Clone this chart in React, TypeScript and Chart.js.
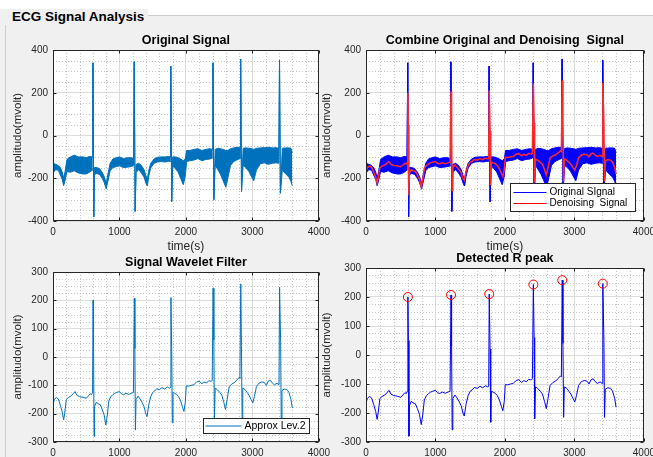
import React, { useEffect, useRef } from 'react';
import { Chart, registerables } from 'chart.js';
Chart.register(...registerables);

const FONT = "'Liberation Sans', Arial, Helvetica, sans-serif";

// ---------- data ----------
const xTicks = [0, 1000, 2000, 3000, 4000];
const yTicksTop = [-400, -200, 0, 200, 400];
const yTicksBottom = [-300, -200, -100, 0, 100, 200, 300];

// denoised / wavelet approximation (level 2)
const approxX = [0, 20, 50, 80, 110, 140, 160, 175, 200, 230, 270, 310, 330, 360, 400, 450, 500, 530, 560, 580, 595,
  603, 610, 618, 625, 650, 680, 710, 740, 770, 795, 815, 840, 870, 900, 930, 960, 1000, 1030, 1060, 1100, 1140, 1180, 1210,
  1224, 1232, 1240, 1250, 1280, 1310, 1340, 1370, 1395, 1415, 1440, 1470, 1500, 1530, 1560, 1600, 1640, 1680, 1720, 1750, 1766,
  1774, 1786, 1795, 1805, 1830, 1860, 1890, 1920, 1950, 1970, 1990, 2005, 2040, 2080, 2120, 2160, 2200, 2240, 2270, 2310, 2340, 2380, 2395,
  2409, 2420, 2428, 2440, 2470, 2510, 2540, 2570, 2595, 2620, 2650, 2690, 2730, 2770, 2800, 2812,
  2825, 2835, 2845, 2855, 2890, 2920, 2950, 2980, 3005, 3030, 3060, 3100, 3140, 3180, 3210, 3240, 3270, 3300, 3330, 3370, 3400,
  3409, 3425, 3433, 3445, 3480, 3520, 3550, 3580, 3600];
const approxY = [-165, -150, -143, -148, -170, -195, -222, -200, -150, -143, -138, -128, -122, -135, -140, -142, -146, -138, -130, -133, -125,
  200, 50, -280, -175, -160, -165, -168, -185, -205, -240, -210, -155, -140, -133, -128, -125, -122, -130, -133, -128, -132, -128, -125,
  207, 30, -258, -150, -138, -148, -160, -175, -200, -210, -170, -140, -125, -120, -112, -115, -108, -113, -106, -110, -108,
  210, 20, -232, -125, -128, -132, -140, -155, -178, -192, -160, -102, -103, -100, -98, -88, -85, -95, -88, -92, -84, -86, -82,
  243, 60, -220, -110, -115, -125, -135, -160, -185, -150, -105, -95, -90, -80, -72, -75,
  258, 40, -215, -110, -115, -125, -135, -150, -162, -140, -105, -92, -88, -90, -100, -85, -82, -92, -98, -93, -98,
  246, 50, -215, -118, -113, -115, -125, -150, -180];

// original noisy signal: upper and lower envelope of the noise band
const origX = [0, 40, 80, 110, 140, 160, 180, 210, 260, 320, 380, 450, 500, 550, 590, 601, 614,
  624, 660, 700, 740, 770, 800, 830, 860, 900, 950, 1000, 1060, 1120, 1180, 1212, 1222, 1236,
  1250, 1290, 1330, 1370, 1400, 1420, 1440, 1470, 1520, 1570, 1630, 1690, 1740, 1762, 1772, 1786,
  1800, 1840, 1880, 1920, 1960, 1990, 2010, 2060, 2120, 2180, 2240, 2300, 2360, 2398, 2407, 2420,
  2440, 2480, 2520, 2560, 2600, 2630, 2670, 2720, 2780, 2814, 2823, 2836,
  2860, 2900, 2950, 2990, 3020, 3060, 3120, 3180, 3240, 3300, 3360, 3398, 3408, 3421,
  3450, 3500, 3550, 3580, 3600];
const origHi = [-130, -135, -140, -150, -172, -200, -172, -112, -100, -92, -100, -100, -104, -98, -100, 340, -380,
  -150, -150, -155, -172, -192, -225, -175, -130, -110, -104, -100, -108, -104, -104, -108, 345, -355,
  -135, -130, -140, -160, -190, -202, -165, -130, -110, -102, -100, -100, -98, -100, 325, -310,
  -100, -100, -104, -110, -118, -110, -70, -70, -65, -62, -70, -65, -62, -65, 340, -300,
  -65, -60, -62, -65, -70, -70, -62, -58, -55, -55, 358, -262,
  -60, -58, -60, -62, -65, -60, -58, -57, -55, -58, -57, -60, 352, -270,
  -60, -58, -58, -60, -80];
const origLo = [-175, -160, -162, -185, -205, -235, -212, -168, -172, -165, -175, -180, -180, -172, -162, 340, -380,
  -182, -178, -182, -200, -220, -250, -208, -165, -150, -146, -142, -150, -148, -145, -142, 345, -355,
  -172, -160, -175, -195, -225, -236, -192, -152, -130, -124, -122, -124, -120, -122, 325, -310,
  -140, -155, -170, -200, -230, -192, -122, -118, -115, -108, -118, -112, -110, -105, 340, -300,
  -140, -160, -182, -212, -242, -200, -140, -122, -112, -108, 358, -262,
  -140, -150, -170, -195, -212, -162, -132, -128, -135, -130, -128, -130, 352, -270,
  -162, -180, -195, -215, -235];

// detected R peaks
const peakX = [603, 1224, 1774, 2409, 2825, 3409];
const peakY = [200, 207, 210, 243, 258, 246];

// ---------- helpers ----------
const pts = (xs: number[], ys: number[]) => xs.map((x, i) => ({ x, y: ys[i] }));

const matlabAxes = {
  id: 'matlabAxes',
  beforeDraw(chart: any) {
    const { ctx, chartArea: a } = chart;
    ctx.save();
    ctx.fillStyle = '#ffffff';
    ctx.fillRect(a.left, a.top, a.right - a.left, a.bottom - a.top);
    ctx.restore();
  },
  beforeDatasetsDraw(chart: any, _args: any, opts: any) {
    const { ctx, chartArea: a, scales } = chart;
    ctx.save();
    ctx.strokeStyle = '#c4c4c4';
    ctx.lineWidth = 1;
    ctx.setLineDash([1, 2]);
    const xs = scales.x, ys = scales.y;
    for (let v = xs.min; v <= xs.max; v += opts.minorX) {
      if (v % opts.majorX === 0) continue;
      const p = Math.round(xs.getPixelForValue(v)) + 0.5;
      ctx.beginPath(); ctx.moveTo(p, a.top); ctx.lineTo(p, a.bottom); ctx.stroke();
    }
    for (let v = ys.min; v <= ys.max; v += opts.minorY) {
      if (v % opts.majorY === 0) continue;
      const p = Math.round(ys.getPixelForValue(v)) + 0.5;
      ctx.beginPath(); ctx.moveTo(a.left, p); ctx.lineTo(a.right, p); ctx.stroke();
    }
    ctx.restore();
  },
  afterDraw(chart: any, _args: any, opts: any) {
    const { ctx, chartArea: a, scales } = chart;
    ctx.save();
    const L = Math.round(a.left) + 0.5, R = Math.round(a.right) - 0.5;
    const T = Math.round(a.top) + 0.5, B = Math.round(a.bottom) - 0.5;
    ctx.strokeStyle = '#262626';
    ctx.lineWidth = 1;
    ctx.setLineDash([]);
    ctx.strokeRect(L, T, R - L, B - T);
    // inward tick marks
    ctx.beginPath();
    for (const t of scales.x.ticks) {
      const p = Math.round(scales.x.getPixelForValue(t.value)) + 0.5;
      ctx.moveTo(p, B); ctx.lineTo(p, B - 3);
      ctx.moveTo(p, T); ctx.lineTo(p, T + 3);
    }
    for (const t of scales.y.ticks) {
      const p = Math.round(scales.y.getPixelForValue(t.value)) + 0.5;
      ctx.moveTo(L, p); ctx.lineTo(L + 3, p);
      ctx.moveTo(R, p); ctx.lineTo(R - 3, p);
    }
    ctx.stroke();
    // legend
    const lg = opts.legend;
    if (lg) {
      const bx = Math.round(a.right - lg.insetRight - lg.w) + 0.5;
      const by = Math.round(a.bottom - lg.insetBottom - lg.h) + 0.5;
      ctx.fillStyle = '#ffffff';
      ctx.fillRect(bx, by, lg.w, lg.h);
      ctx.strokeStyle = '#262626';
      ctx.strokeRect(bx, by, lg.w, lg.h);
      ctx.font = `${lg.fontSize}px ${FONT}`;
      ctx.textBaseline = 'middle';
      ctx.textAlign = 'left';
      lg.items.forEach((it: any, i: number) => {
        const y = by + lg.rowTop + i * lg.rowH;
        ctx.strokeStyle = it.color;
        ctx.lineWidth = 1;
        ctx.beginPath(); ctx.moveTo(bx + lg.lineStart, y); ctx.lineTo(bx + lg.lineEnd, y); ctx.stroke();
        ctx.fillStyle = '#000000';
        ctx.fillText(it.label, bx + lg.textX, y);
      });
    }
    ctx.restore();
  },
};

type PlotCfg = {
  x: number; y: number; w: number; h: number;
  yW: number; xH: number;
  title: string; titlePadTop: number; titlePadBottom: number;
  yTitlePad: number; xTitle: boolean;
  yTicks: number[]; yMajor: number; yMinor: number;
  datasets: any[];
  legend?: any;
};

function buildConfig(c: PlotCfg): any {
  return {
    type: 'line',
    data: { datasets: c.datasets },
    plugins: [matlabAxes],
    options: {
      responsive: false,
      animation: false,
      devicePixelRatio: 1,
      layout: { padding: { left: 0, right: 14, top: 0, bottom: 0 } },
      elements: { point: { radius: 0 }, line: { tension: 0 } },
      plugins: {
        legend: { display: false },
        tooltip: { enabled: false },
        title: {
          display: true, text: c.title, fullSize: false, color: '#000000',
          font: { family: FONT, size: 12.5, weight: 'bold' },
          padding: { top: c.titlePadTop, bottom: c.titlePadBottom },
        },
        matlabAxes: { minorX: 200, majorX: 1000, minorY: c.yMinor, majorY: c.yMajor, legend: c.legend },
      },
      scales: {
        x: {
          type: 'linear', min: xTicks[0], max: xTicks[xTicks.length - 1],
          afterBuildTicks: (s: any) => { s.ticks = xTicks.map((v) => ({ value: v })); },
          afterFit: (s: any) => { s.height = c.xH; },
          ticks: { font: { family: FONT, size: 10 }, color: '#262626', padding: 5, maxRotation: 0, autoSkip: false, callback: (v: any) => String(v) },
          grid: { color: '#dcdcdc', drawTicks: false },
          border: { display: false },
          title: c.xTitle
            ? { display: true, text: 'time(s)', color: '#262626', font: { family: FONT, size: 12 }, padding: { top: 0, bottom: 1 } }
            : { display: false },
        },
        y: {
          type: 'linear', min: c.yTicks[0], max: c.yTicks[c.yTicks.length - 1],
          afterBuildTicks: (s: any) => { s.ticks = c.yTicks.map((v) => ({ value: v })); },
          afterFit: (s: any) => { s.width = c.yW; },
          ticks: { font: { family: FONT, size: 10 }, color: '#262626', padding: 5, autoSkip: false, callback: (v: any) => String(v) },
          grid: { color: '#dcdcdc', drawTicks: false },
          border: { display: false },
          title: { display: true, text: 'amplitudo(mvolt)', color: '#262626', font: { family: FONT, size: 11.5 }, padding: { top: c.yTitlePad, bottom: 0 } },
        },
      },
    },
  };
}

function Plot({ cfg }: { cfg: PlotCfg }) {
  const ref = useRef<HTMLCanvasElement | null>(null);
  useEffect(() => {
    const chart = new Chart(ref.current as HTMLCanvasElement, buildConfig(cfg));
    return () => chart.destroy();
  }, []);
  return (
    <canvas ref={ref} width={cfg.w} height={cfg.h}
      style={{ position: 'absolute', left: cfg.x, top: cfg.y, width: cfg.w, height: cfg.h }} />
  );
}

const line = (data: any[], color: string, width: number, extra: any = {}) => ({
  data, borderColor: color, backgroundColor: color, borderWidth: width, pointRadius: 0, fill: false, ...extra,
});

const origLoPts = pts(origX, origLo);
const origHiPts = pts(origX, origHi);
const approxPts = pts(approxX, approxY);
const peakPts = pts(peakX, peakY);

const plots: PlotCfg[] = [
  {
    x: 0, y: 24, w: 335, h: 231, yW: 53, xH: 34,
    title: 'Original Signal', titlePadTop: 9, titlePadBottom: 2, yTitlePad: 10.5, xTitle: true,
    yTicks: yTicksTop, yMajor: 200, yMinor: 50,
    datasets: [
      line(origLoPts, '#0072BD', 1),
      line(origHiPts, '#0072BD', 1, { fill: '-1' }),
    ],
  },
  {
    x: 320, y: 24, w: 340, h: 231, yW: 46, xH: 34,
    title: 'Combine Original and Denoising  Signal', titlePadTop: 9, titlePadBottom: 2, yTitlePad: 0, xTitle: true,
    yTicks: yTicksTop, yMajor: 200, yMinor: 50,
    datasets: [
      line(approxPts, '#ff2a2a', 1.5),
      line(origLoPts, '#0000ff', 1),
      line(origHiPts, '#0000ff', 1, { fill: '-1' }),
    ],
    legend: {
      insetRight: 9, insetBottom: 10, w: 125, h: 28, fontSize: 10,
      rowTop: 9, rowH: 11, lineStart: 3, lineEnd: 36, textX: 39,
      items: [{ label: 'Original SIgnal', color: '#0000ff' }, { label: 'Denoising  Signal', color: '#ff0000' }],
    },
  },
  {
    x: 0, y: 250, w: 335, h: 212, yW: 53, xH: 20,
    title: 'Signal Wavelet Filter', titlePadTop: 5, titlePadBottom: 2, yTitlePad: 10.5, xTitle: false,
    yTicks: yTicksBottom, yMajor: 100, yMinor: 25,
    datasets: [line(approxPts, '#0072BD', 1)],
    legend: {
      insetRight: 10, insetBottom: 9, w: 106, h: 15, fontSize: 10.5,
      rowTop: 7.5, rowH: 11, lineStart: 2, lineEnd: 38, textX: 41,
      items: [{ label: 'Approx Lev.2', color: '#0072BD' }],
    },
  },
  {
    x: 320, y: 246, w: 340, h: 216, yW: 46, xH: 20,
    title: 'Detected R peak', titlePadTop: 5, titlePadBottom: 2, yTitlePad: 0, xTitle: false,
    yTicks: yTicksBottom, yMajor: 100, yMinor: 25,
    datasets: [
      { data: peakPts, showLine: false, pointRadius: 4.5, pointStyle: 'circle', pointBorderColor: '#ff0000', pointBackgroundColor: 'rgba(0,0,0,0)', pointBorderWidth: 1, borderColor: '#ff0000' },
      line(approxPts, '#0000ff', 1),
    ],
  },
];

export default function App() {
  return (
    <div style={{ position: 'fixed', left: 0, top: 0, width: 653, height: 457, overflow: 'hidden', background: '#f0f0f0' }}>
      <div style={{ position: 'absolute', left: 0, top: 0, width: 653, height: 16, background: '#ffffff' }} />
      <div style={{ position: 'absolute', left: 5, top: 15, width: 700, height: 500, borderTop: '1px solid #cdcdcd', borderLeft: '1px solid #cdcdcd' }} />
      <div style={{ position: 'absolute', left: 0, top: 9, width: 148, height: 16, background: '#f0f0f0' }} />
      <div style={{ position: 'absolute', left: 12, top: 8, fontFamily: FONT, fontWeight: 'bold', fontSize: 13.5, lineHeight: '18px', color: '#000', whiteSpace: 'nowrap' }}>
        ECG Signal Analysis
      </div>
      {plots.map((p, i) => <Plot key={i} cfg={p} />)}
    </div>
  );
}
